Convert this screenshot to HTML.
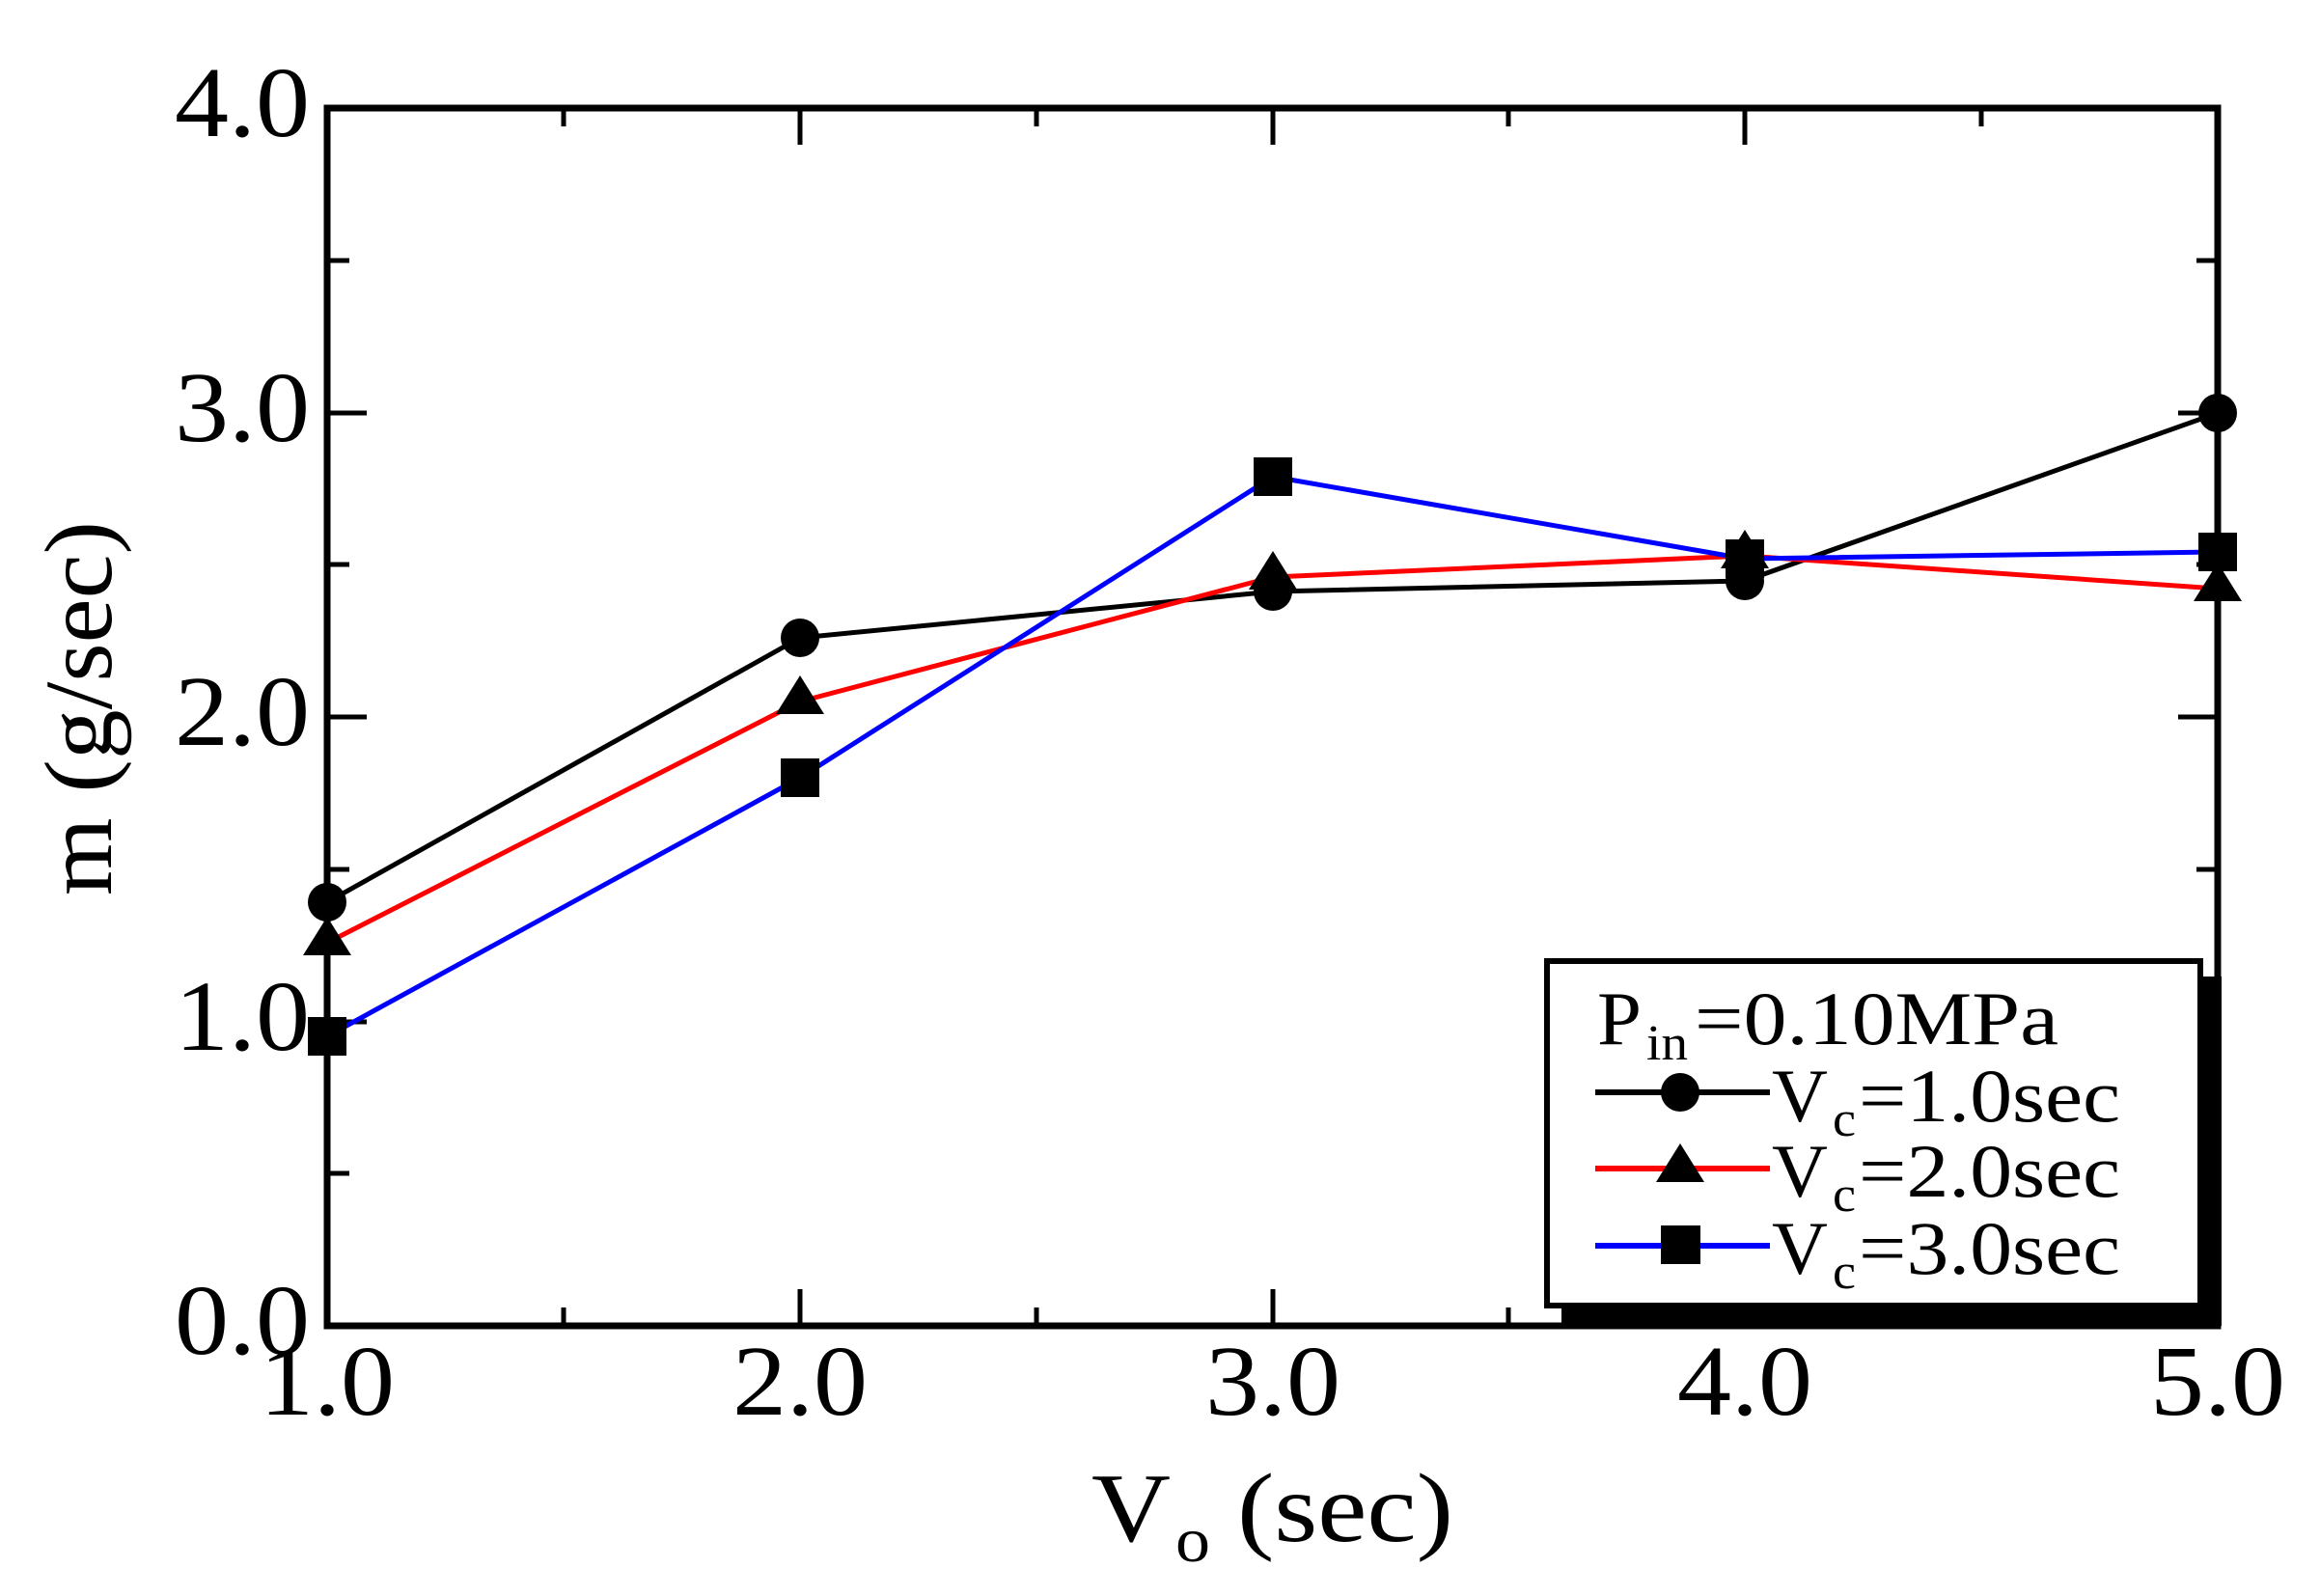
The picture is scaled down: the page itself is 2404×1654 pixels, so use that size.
<!DOCTYPE html>
<html><head><meta charset="utf-8"><style>
html,body{margin:0;padding:0;background:#fff;}
svg{display:block;}
text{font-family:"Liberation Serif","Times New Roman",Times,serif;fill:#000;}
</style></head><body>
<svg width="2404" height="1654" viewBox="0 0 2404 1654" xmlns="http://www.w3.org/2000/svg">
<g stroke="#000" stroke-width="5">
  <path d="M829,1374V1336M1319,1374V1336M1808,1374V1336M829,112V150M1319,112V150M1808,112V150"/>
  <path d="M584,1374V1355M1074,1374V1355M1563,1374V1355M2053,1374V1355M584,112V131M1074,112V131M1563,112V131M2053,112V131"/>
  <path d="M339,1059H380M339,743H380M339,428H380M2298,1059H2257M2298,743H2257M2298,428H2257"/>
  <path d="M339,1216H362M339,901H362M339,585H362M339,270H362M2298,1216H2276M2298,901H2276M2298,585H2276M2298,270H2276"/>
</g>
<rect x="339" y="112" width="1959" height="1262" fill="none" stroke="#000" stroke-width="7"/>
<g font-size="104" lengthAdjust="spacingAndGlyphs">
  <text x="181" y="1403" textLength="140" lengthAdjust="spacingAndGlyphs">0.0</text>
  <text x="181" y="1088" textLength="140" lengthAdjust="spacingAndGlyphs">1.0</text>
  <text x="181" y="772" textLength="140" lengthAdjust="spacingAndGlyphs">2.0</text>
  <text x="181" y="457" textLength="140" lengthAdjust="spacingAndGlyphs">3.0</text>
  <text x="181" y="141" textLength="140" lengthAdjust="spacingAndGlyphs">4.0</text>
  <text x="269" y="1466" textLength="140" lengthAdjust="spacingAndGlyphs">1.0</text>
  <text x="759" y="1466" textLength="140" lengthAdjust="spacingAndGlyphs">2.0</text>
  <text x="1249" y="1466" textLength="140" lengthAdjust="spacingAndGlyphs">3.0</text>
  <text x="1738" y="1466" textLength="140" lengthAdjust="spacingAndGlyphs">4.0</text>
  <text x="2228" y="1466" textLength="140" lengthAdjust="spacingAndGlyphs">5.0</text>
</g>
<text transform="translate(115,928) rotate(-90)" font-size="100" textLength="388" lengthAdjust="spacingAndGlyphs">m (g/sec)</text>
<text x="1131" y="1597" font-size="102" textLength="82" lengthAdjust="spacingAndGlyphs">V</text>
<text x="1218" y="1618" font-size="66" textLength="36" lengthAdjust="spacingAndGlyphs">o</text>
<text x="1282" y="1597" font-size="102" textLength="224" lengthAdjust="spacingAndGlyphs">(sec)</text>
<g fill="none" stroke-width="5" stroke-linejoin="round">
  <polyline stroke="#000" points="339,935 829,661 1319,613 1808,602 2298,428"/>
  <polyline stroke="#f00" points="339,977 829,727 1319,598 1808,576 2298,610"/>
  <polyline stroke="#00f" points="339,1074 829,806 1319,494 1808,579 2298,572"/>
</g>
<g fill="#000">
  <ellipse cx="339" cy="935" rx="20" ry="20"/><ellipse cx="829" cy="661" rx="20" ry="20"/>
  <ellipse cx="1319" cy="613" rx="20" ry="20"/><ellipse cx="1808" cy="602" rx="20" ry="20"/>
  <ellipse cx="2298" cy="428" rx="20" ry="20"/>
  <path d="M339,950l-25,40h50z M829,700l-25,40h50z M1319,571l-25,40h50z M1808,549l-25,40h50z M2298,583l-25,40h50z"/>
  <rect x="319" y="1054" width="40" height="40"/><rect x="809" y="786" width="40" height="40"/>
  <rect x="1299" y="474" width="40" height="40"/><rect x="1788" y="559" width="40" height="40"/>
  <rect x="2278" y="552" width="40" height="40"/>
</g>
<rect x="1618" y="1012" width="684" height="362" fill="#000"/>
<rect x="1603" y="996" width="677" height="357" fill="#fff" stroke="#000" stroke-width="6"/>
<text x="1655" y="1082" font-size="78" textLength="46" lengthAdjust="spacingAndGlyphs">P</text>
<text x="1706" y="1098" font-size="52" textLength="43" lengthAdjust="spacingAndGlyphs">in</text>
<text x="1756" y="1082" font-size="78" textLength="377" lengthAdjust="spacingAndGlyphs">=0.10MPa</text>
<g stroke-width="6">
  <line x1="1653" y1="1132" x2="1834" y2="1132" stroke="#000"/>
  <line x1="1653" y1="1211" x2="1834" y2="1211" stroke="#f00"/>
  <line x1="1653" y1="1291" x2="1834" y2="1291" stroke="#00f"/>
</g>
<ellipse cx="1741" cy="1132" rx="20" ry="20"/>
<path d="M1741,1185l-25,40h50z"/>
<rect x="1721" y="1270" width="41" height="40"/>
<g font-size="78">
  <text x="1836" y="1162" textLength="58" lengthAdjust="spacingAndGlyphs">V</text>
  <text x="1899" y="1177" font-size="52" textLength="24" lengthAdjust="spacingAndGlyphs">c</text>
  <text x="1926" y="1162" textLength="271" lengthAdjust="spacingAndGlyphs">=1.0sec</text>
  <text x="1836" y="1240" textLength="58" lengthAdjust="spacingAndGlyphs">V</text>
  <text x="1899" y="1255" font-size="52" textLength="24" lengthAdjust="spacingAndGlyphs">c</text>
  <text x="1926" y="1240" textLength="271" lengthAdjust="spacingAndGlyphs">=2.0sec</text>
  <text x="1836" y="1320" textLength="58" lengthAdjust="spacingAndGlyphs">V</text>
  <text x="1899" y="1335" font-size="52" textLength="24" lengthAdjust="spacingAndGlyphs">c</text>
  <text x="1926" y="1320" textLength="271" lengthAdjust="spacingAndGlyphs">=3.0sec</text>
</g>
</svg>
</body></html>
